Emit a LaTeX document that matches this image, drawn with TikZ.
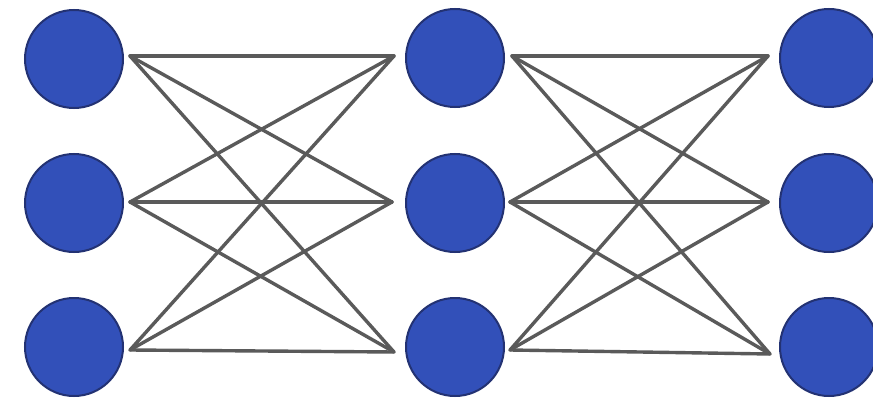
\documentclass[tikz,border=0pt]{standalone}
\usepackage{tikz}
\definecolor{nodeblue}{RGB}{50,80,185}
\definecolor{nodeedge}{RGB}{35,50,115}
\definecolor{linkgray}{RGB}{90,90,90}
\tikzset{
  neuron/.style={circle, fill=nodeblue, draw=nodeedge, line width=2pt, minimum size=98pt, inner sep=0pt},
  link/.style={draw=linkgray, line width=3.4pt, line cap=round}
}
\begin{document}
\begin{tikzpicture}[x=1pt,y=-1pt]
\useasboundingbox (0,0) rectangle (873,404);
\fill[white] (0,0) rectangle (873,404);
% link end points
\coordinate (a1o) at (130,56);
\coordinate (a2o) at (130,202);
\coordinate (a3o) at (130,350);
\coordinate (b1i) at (394,56);
\coordinate (b2i) at (392,202);
\coordinate (b3i) at (394,352);
\coordinate (b1o) at (512,56);
\coordinate (b2o) at (510,202);
\coordinate (b3o) at (510,350);
\coordinate (c1i) at (768,56);
\coordinate (c2i) at (768,202);
\coordinate (c3i) at (770,354);
\foreach \i in {1,2,3}{
  \foreach \j in {1,2,3}{
    \draw[link] (a\i o) -- (b\j i);
    \draw[link] (b\i o) -- (c\j i);
  }
}
\node[neuron] (a1) at (74,59) {};
\node[neuron] (a2) at (74,203) {};
\node[neuron] (a3) at (74,347) {};
\node[neuron] (b1) at (455,58) {};
\node[neuron] (b2) at (455,203) {};
\node[neuron] (b3) at (455,347) {};
\node[neuron] (c1) at (829,58) {};
\node[neuron] (c2) at (829,203) {};
\node[neuron] (c3) at (829,347) {};
\end{tikzpicture}
\end{document}
